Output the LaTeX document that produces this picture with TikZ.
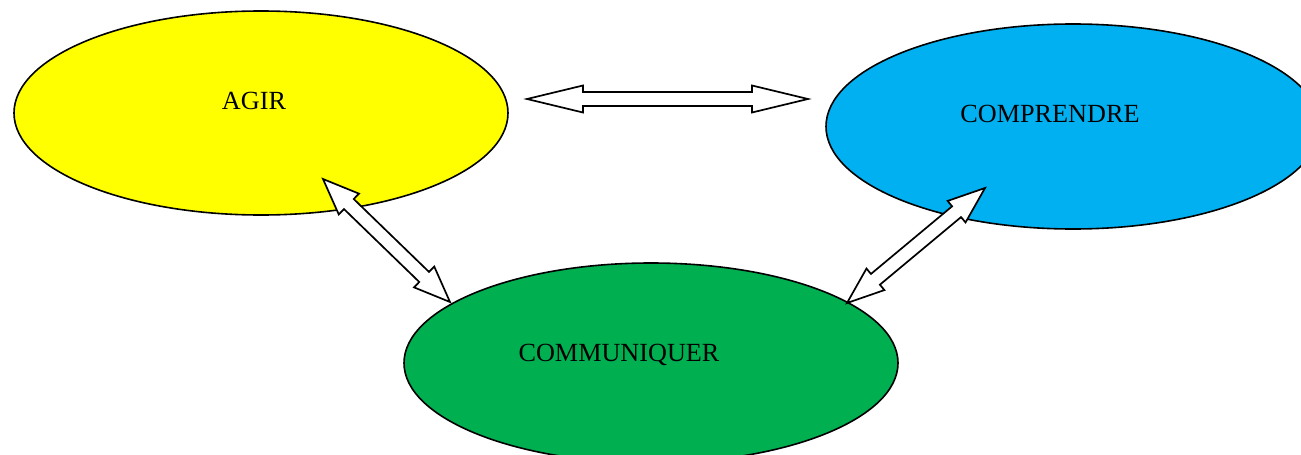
\documentclass[tikz,border=0pt]{standalone}
\usepackage{fontspec}
\setmainfont{Liberation Serif}
\usetikzlibrary{shapes.geometric,calc}
\definecolor{cyel}{HTML}{FFFF00}
\definecolor{cblu}{HTML}{00B0F0}
\definecolor{cgrn}{HTML}{00B050}
\tikzset{
  blob/.style={ellipse, draw=black, line width=1.6pt, minimum width=494pt, inner sep=0pt},
  lbl/.style={font=\fontsize{26.2}{30}\selectfont, anchor=base, inner sep=0pt},
  blockarrow/.style={draw=black, fill=white, line width=1.7pt, line join=miter}
}
% #1,#2 tip coordinates, #3 head length, #4 head half width, #5 shaft half width
\newcommand\dblarrow[5]{%
  \draw[blockarrow] (#1)
    -- ($(#1)!#3!(#2)!#4!90:(#2)$)
    -- ($(#1)!#3!(#2)!#5!90:(#2)$)
    -- ($(#2)!#3!(#1)!#5!-90:(#1)$)
    -- ($(#2)!#3!(#1)!#4!-90:(#1)$)
    -- (#2)
    -- ($(#2)!#3!(#1)!#4!90:(#1)$)
    -- ($(#2)!#3!(#1)!#5!90:(#1)$)
    -- ($(#1)!#3!(#2)!#5!-90:(#2)$)
    -- ($(#1)!#3!(#2)!#4!-90:(#2)$)
    -- cycle;}
\begin{document}
\begin{tikzpicture}[x=1pt,y=-1pt]
\useasboundingbox (0,0) rectangle (1301,455);
\clip (0,0) rectangle (1301,455);
\node[blob, fill=cyel, minimum height=204pt] (agir) at (261,113) {};
\node[blob, fill=cblu, minimum height=205pt] (comp) at (1073,126.5) {};
\node[blob, fill=cgrn, minimum height=200pt] (comm) at (651,363) {};
\node[lbl] (tagir) at (254,109) {AGIR};
\node[lbl] (tcomp) at (1050,122) {COMPRENDRE};
\node[lbl] (tcomm) at (619,361) {COMMUNIQUER};
\coordinate (h1) at (527,99);
\coordinate (h2) at (808,99);
\coordinate (a1) at (323,179);
\coordinate (a2) at (450,302);
\coordinate (b1) at (847,303);
\coordinate (b2) at (985,188);
\dblarrow{h1}{h2}{56pt}{13.5pt}{7pt}
\dblarrow{a1}{a2}{36pt}{14.5pt}{7pt}
\dblarrow{b1}{b2}{37pt}{14pt}{7pt}
\end{tikzpicture}
\end{document}
